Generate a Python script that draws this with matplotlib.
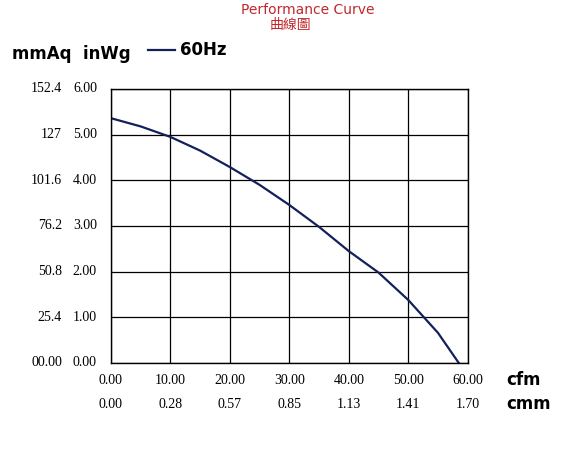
import matplotlib
matplotlib.use("Agg")
import matplotlib.pyplot as plt
import matplotlib.transforms as mt

cfm = [0, 5, 10, 15, 20, 25, 30, 35, 40, 45, 50, 55, 58.5]
inwg = [5.36, 5.18, 4.95, 4.65, 4.29, 3.9, 3.46, 2.98, 2.45, 1.98, 1.38, 0.66, 0.0]
inwg_ticks = ["0.00", "1.00", "2.00", "3.00", "4.00", "5.00", "6.00"]
mmaq_ticks = ["00.00", "25.4", "50.8", "76.2", "101.6", "127", "152.4"]
cfm_ticks = ["0.00", "10.00", "20.00", "30.00", "40.00", "50.00", "60.00"]
cmm_ticks = ["0.00", "0.28", "0.57", "0.85", "1.13", "1.41", "1.70"]

fig = plt.figure(figsize=(5.81, 4.61), dpi=100)
ax = fig.add_axes([0.191, 0.2126, 0.614, 0.5944])
ax.set_xlim(0, 60); ax.set_ylim(0, 6)
for v in range(0, 61, 10):
    ax.axvline(v, color="black", lw=0.9)
for v in range(0, 7):
    ax.axhline(v, color="black", lw=0.9)
for s in ax.spines.values():
    s.set_linewidth(1.0)
ax.set_xticks([]); ax.set_yticks([])
ax.plot(cfm, inwg, color="#14205a", lw=1.6)

serif = "Liberation Serif"
ty = mt.blended_transform_factory(fig.transFigure, ax.transData)
for i, (a, b) in enumerate(zip(inwg_ticks, mmaq_ticks)):
    ax.text(97/581, i, a, transform=ty, ha="right", va="center", fontsize=10, family=serif)
    ax.text(62/581, i, b, transform=ty, ha="right", va="center", fontsize=10, family=serif)
tx = mt.blended_transform_factory(ax.transData, fig.transFigure)
for i, (a, b) in enumerate(zip(cfm_ticks, cmm_ticks)):
    ax.text(i*10, 1-380/461, a, transform=tx, ha="center", va="center", fontsize=10, family=serif)
    ax.text(i*10, 1-404/461, b, transform=tx, ha="center", va="center", fontsize=10, family=serif)
fig.text(506/581, 1-380/461, "cfm", ha="left", va="center", fontsize=12, fontweight="bold")
fig.text(506/581, 1-404/461, "cmm", ha="left", va="center", fontsize=12, fontweight="bold")
fig.text(12/581, 1-54/461, "mmAq  inWg", ha="left", va="center", fontsize=12, fontweight="bold")
fig.lines.append(plt.Line2D([148/581, 175/581], [1-50/461]*2, color="#14205a", lw=1.6, transform=fig.transFigure))
fig.text(180/581, 1-50/461, "60Hz", ha="left", va="center", fontsize=12, fontweight="bold")
fig.text(308/581, 1-10/461, "Performance Curve", ha="center", va="center", fontsize=10, color="#c0282d")
fig.text(290/581, 1-25/461, "曲線圖", ha="center", va="center", fontsize=10, color="#c0282d",
         family=["Noto Sans CJK TC", "DejaVu Sans"])
fig.savefig("out.png", dpi=100)
